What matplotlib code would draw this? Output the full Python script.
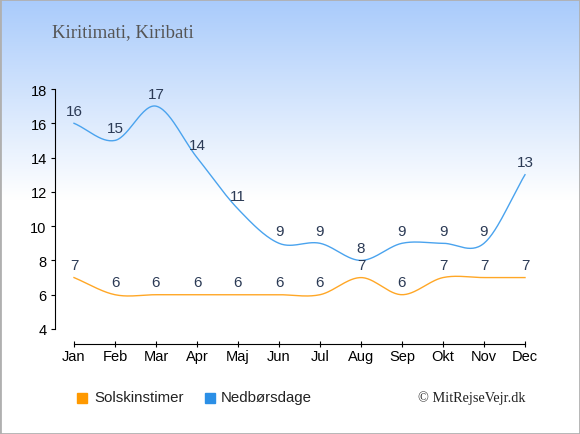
import numpy as np
import matplotlib
matplotlib.use('Agg')
import matplotlib.pyplot as plt
from matplotlib.colors import LinearSegmentedColormap

plt.rcParams['font.family'] = ['Liberation Sans', 'DejaVu Sans']

# data
months = ['Jan', 'Feb', 'Mar', 'Apr', 'Maj', 'Jun', 'Jul', 'Aug', 'Sep', 'Okt', 'Nov', 'Dec']
sol = [7, 6, 6, 6, 6, 6, 6, 7, 6, 7, 7, 7]
regn = [16, 15, 17, 14, 11, 9, 9, 8, 9, 9, 9, 13]
title = 'Kiritimati, Kiribati'


def smooth(y, n=30):
    # catmull-rom kurve gennem punkterne
    y = np.asarray(y, float)
    x = np.arange(len(y), dtype=float)
    yp = np.concatenate([[2 * y[0] - y[1]], y, [2 * y[-1] - y[-2]]])
    xs, ys = [], []
    for i in range(len(y) - 1):
        p0, p1, p2, p3 = yp[i], yp[i + 1], yp[i + 2], yp[i + 3]
        t = np.linspace(0, 1, n, endpoint=False)
        m1 = (p2 - p0) / 2
        m2 = (p3 - p1) / 2
        h00 = 2 * t**3 - 3 * t**2 + 1
        h10 = t**3 - 2 * t**2 + t
        h01 = -2 * t**3 + 3 * t**2
        h11 = t**3 - t**2
        xs.append(x[i] + t)
        ys.append(h00 * p1 + h10 * m1 + h01 * p2 + h11 * m2)
    xs.append([x[-1]])
    ys.append([y[-1]])
    return np.concatenate(xs), np.concatenate(ys)


fig = plt.figure(figsize=(5.8, 4.35), dpi=100)

# baggrund med gradient
bg = fig.add_axes([0, 0, 1, 1], zorder=0)
cmap = LinearSegmentedColormap.from_list('bg', [(0, '#a9cbfb'), (0.46, '#ffffff'), (1, '#ffffff')])
grad = np.linspace(0, 1, 256).reshape(-1, 1)
bg.imshow(grad, aspect='auto', cmap=cmap, extent=[0, 1, 0, 1], origin='upper')
bg.set_xlim(0, 1)
bg.set_ylim(0, 1)
bg.axis('off')
bg.add_patch(plt.Rectangle((0, 0), 1, 1, fill=False, edgecolor='#b0b0b0', lw=2, transform=bg.transAxes))

W, H = 580, 435
ax = fig.add_axes([55 / W, 1 - 330 / H, 485 / W, 240 / H], zorder=1)
ax.patch.set_alpha(0)

x = np.arange(len(months))
sx, sy = smooth(sol)
rx, ry = smooth(regn)
ax.plot(sx, sy, color='#ffa726', lw=1)
ax.plot(rx, ry, color='#4aa3ee', lw=1)

for i in range(len(months)):
    ax.annotate(str(sol[i]), (x[i], sol[i]), xytext=(0, 9), textcoords='offset points',
                ha='center', va='center', fontsize=11, color='#2b3a55')
    ax.annotate(str(regn[i]), (x[i], regn[i]), xytext=(0, 9), textcoords='offset points',
                ha='center', va='center', fontsize=11, color='#2b3a55')

ax.set_xlim(-19 / 41, 11 + 15 / 41)
ax.set_ylim(4, 18)
ax.set_yticks(range(4, 19, 2))
ax.set_xticks(x)
ax.set_xticklabels(months)
ax.spines['top'].set_visible(False)
ax.spines['right'].set_visible(False)
ax.spines['bottom'].set_position(('outward', 11))
ax.spines['bottom'].set_bounds(0, 11)
ax.tick_params(axis='both', labelsize=10.5, colors='black')
ax.tick_params(axis='y', length=3, direction='out', pad=3)
ax.tick_params(axis='x', length=5, direction='inout', pad=1)

fig.text(52 / W, 1 - 33 / H, title, fontsize=13.5, family='Liberation Serif', color='#555555', va='center')

# legende
fig.patches.append(plt.Rectangle((77 / W, 1 - 404 / H), 10 / W, 10 / H, color='#ff9900', transform=fig.transFigure))
fig.text(94 / W, 1 - 398 / H, 'Solskinstimer', fontsize=10.8, va='center', color='#222222')
fig.patches.append(plt.Rectangle((205 / W, 1 - 404 / H), 10 / W, 10 / H, color='#2b8fe6', transform=fig.transFigure))
fig.text(221 / W, 1 - 398 / H, 'Nedbørsdage', fontsize=10.8, va='center', color='#222222')
fig.text(526 / W, 1 - 398 / H, '© MitRejseVejr.dk', fontsize=10.3, family='Liberation Serif',
         ha='right', va='center', color='#222222')

fig.savefig('out.png', dpi=100)
